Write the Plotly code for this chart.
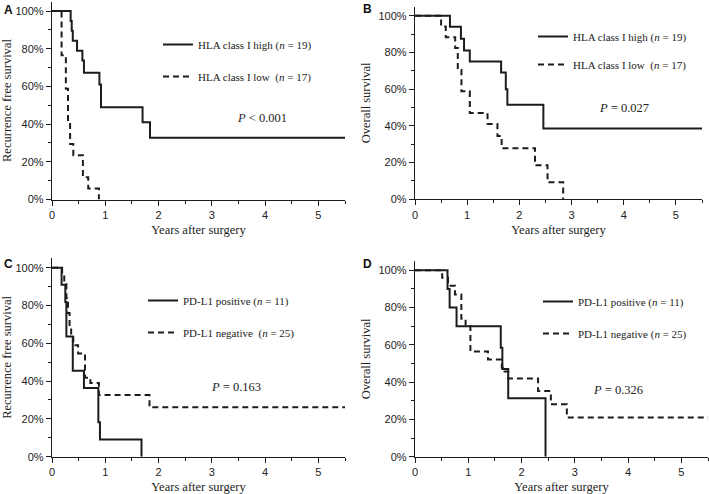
import plotly.graph_objects as go

# ---------------- data ----------------
# Panel A: recurrence free survival by HLA class I
a_high_t = [0, 0.35, 0.37, 0.39, 0.47, 0.57, 0.60, 0.89, 0.92, 1.70, 1.84, 5.5]
a_high_s = [1.0, 0.947, 0.895, 0.842, 0.789, 0.737, 0.672, 0.61, 0.49, 0.41, 0.327, 0.327]
a_low_t = [0, 0.18, 0.26, 0.30, 0.34, 0.40, 0.58, 0.68, 0.88]
a_low_s = [1.0, 0.765, 0.588, 0.412, 0.294, 0.235, 0.118, 0.059, 0.0]

# Panel B: overall survival by HLA class I
b_high_t = [0, 0.67, 0.88, 0.94, 1.05, 1.65, 1.74, 1.77, 2.46, 5.5]
b_high_s = [1.0, 0.94, 0.875, 0.81, 0.75, 0.69, 0.60, 0.515, 0.386, 0.386]
b_low_t = [0, 0.50, 0.59, 0.77, 0.82, 0.89, 1.05, 1.39, 1.58, 1.66, 2.30, 2.54, 2.84]
b_low_s = [1.0, 0.941, 0.882, 0.824, 0.706, 0.588, 0.47, 0.41, 0.345, 0.278, 0.186, 0.093, 0.0]

# Panel C: recurrence free survival by PD-L1
c_pos_t = [0, 0.18, 0.25, 0.27, 0.39, 0.60, 0.87, 0.90, 1.68]
c_pos_s = [1.0, 0.909, 0.818, 0.636, 0.455, 0.364, 0.182, 0.091, 0.0]
c_neg_t = [0, 0.19, 0.23, 0.27, 0.30, 0.33, 0.36, 0.40, 0.49, 0.62, 0.72, 0.88, 1.83, 5.5]
c_neg_s = [1.0, 0.96, 0.92, 0.84, 0.76, 0.68, 0.64, 0.59, 0.546, 0.418, 0.39, 0.326, 0.261, 0.261]

# Panel D: overall survival by PD-L1
d_pos_t = [0, 0.61, 0.65, 0.78, 1.61, 1.64, 1.75, 2.45]
d_pos_s = [1.0, 0.90, 0.80, 0.70, 0.585, 0.47, 0.313, 0.0]
d_neg_t = [0, 0.51, 0.62, 0.75, 0.87, 0.95, 1.04, 1.37, 1.63, 1.68, 1.75, 2.31, 2.55, 2.85, 5.5]
d_neg_s = [1.0, 0.96, 0.917, 0.87, 0.74, 0.70, 0.565, 0.522, 0.478, 0.457, 0.42, 0.352, 0.281, 0.21, 0.21]

names_hla = ["HLA class I high (<i>n</i> = 19)", "HLA class I low\u00a0\u00a0(<i>n</i> = 17)"]
names_pdl1_c = ["PD-L1 positive (<i>n</i> = 11)", "PD-L1 negative\u00a0\u00a0(<i>n</i> = 25)"]
names_pdl1_d = ["PD-L1 positive (<i>n</i> = 11)", "PD-L1 negative (<i>n</i> = 25)"]
p_texts = ["<i>P</i> &lt; 0.001", "<i>P</i> = 0.027", "<i>P</i> = 0.163", "<i>P</i> = 0.326"]
p_pos = [(3.94, 0.432), (4.0, 0.497), (3.45, 0.369), (3.81, 0.358)]
y_titles = ["Recurrence free survival", "Overall survival", "Recurrence free survival", "Overall survival"]
x_title = "Years after surgery"
panel_letters = ["A", "B", "C", "D"]
x_ticks = [0, 1, 2, 3, 4, 5]
y_ticks = [0, 0.2, 0.4, 0.6, 0.8, 1.0]

# ---------------- figure ----------------
W, H = 709, 494
LINE = "#1c1c1c"
SERIF = "Liberation Serif, Times New Roman, serif"
SANS = "Liberation Sans, Arial, sans-serif"

fig = go.Figure()

panels = [
    (a_high_t, a_high_s, a_low_t, a_low_s, names_hla, "x", "y", "legend"),
    (b_high_t, b_high_s, b_low_t, b_low_s, names_hla, "x2", "y2", "legend2"),
    (c_pos_t, c_pos_s, c_neg_t, c_neg_s, names_pdl1_c, "x3", "y3", "legend3"),
    (d_pos_t, d_pos_s, d_neg_t, d_neg_s, names_pdl1_d, "x4", "y4", "legend4"),
]

for i, (t1, s1, t2, s2, nm, xa, ya, lg) in enumerate(panels):
    fig.add_trace(go.Scatter(x=t1, y=s1, mode="lines", line=dict(color=LINE, width=2, shape="hv"),
                             name=nm[0], xaxis=xa, yaxis=ya, legend=lg, legendgroup=f"g{i}a"))
    fig.add_trace(go.Scatter(x=t2, y=s2, mode="lines", line=dict(color=LINE, width=2, shape="hv", dash="6px,4px"),
                             name=nm[1], xaxis=xa, yaxis=ya, legend=lg, legendgroup=f"g{i}b"))

# pixel-based domains
def xd(l, r):
    return [l / W, r / W]

def yd(bottom_px, top_px):
    return [1 - bottom_px / H, 1 - top_px / H]

x_domains = [xd(52, 345), xd(415, 702), xd(52, 345), xd(415, 708)]
y_domains = [yd(199.5, 1.6), yd(199.3, 6.5), yd(456.7, 258.2), yd(456.7, 261.0)]

axis_common = dict(showline=True, linecolor=LINE, linewidth=1.3, showgrid=False, zeroline=False,
                   ticks="outside", tickcolor=LINE, tickwidth=1.2, ticklen=5, automargin=False)

layout = {}
for i in range(4):
    sfx = "" if i == 0 else str(i + 1)
    layout["xaxis" + sfx] = dict(
        axis_common, domain=x_domains[i], range=[0, 5.5], tickvals=x_ticks,
        anchor="y" + sfx,
        minor=dict(dtick=0.5, tick0=0, ticks="outside", ticklen=3, tickcolor=LINE, tickwidth=1.2),
        tickfont=dict(family=SANS, size=11, color="#222"),
        title=dict(text=x_title, font=dict(family=SERIF, size=12.5, color="#222"), standoff=5),
    )
    layout["yaxis" + sfx] = dict(
        axis_common, domain=y_domains[i], range=[0, 1.05], tickvals=y_ticks, tickformat=".0%",
        anchor="x" + sfx,
        minor=dict(dtick=0.1, tick0=0, ticks="outside", ticklen=3, tickcolor=LINE, tickwidth=1.2),
        tickfont=dict(family=SANS, size=11, color="#222"),
        title=dict(text=y_titles[i], font=dict(family=SERIF, size=12.5, color="#222"), standoff=5),
    )

legend_pos = [(158, 30), (533, 22), (143, 286), (538, 287)]
legend_gaps = [13, 9, 13, 13]
for i in range(4):
    key = "legend" if i == 0 else f"legend{i + 1}"
    lx, ly = legend_pos[i]
    layout[key] = dict(x=lx / W, y=1 - ly / H, xanchor="left", yanchor="top",
                       bgcolor="rgba(0,0,0,0)", borderwidth=0,
                       font=dict(family=SERIF, size=11, color="#222"),
                       tracegroupgap=legend_gaps[i], itemclick=False, itemdoubleclick=False)

annotations = []
for i in range(4):
    sfx = "" if i == 0 else str(i + 1)
    px_, py_ = p_pos[i]
    annotations.append(dict(text=p_texts[i], x=px_, y=py_, xref="x" + sfx, yref="y" + sfx,
                            showarrow=False, font=dict(family=SERIF, size=12.5, color="#222"),
                            xanchor="center", yanchor="middle"))

letter_pos = [(2, 10), (361, 9), (2, 264), (361, 264)]
for i in range(4):
    lx, ly = letter_pos[i]
    annotations.append(dict(text=f"<b>{panel_letters[i]}</b>", x=lx / W, y=1 - ly / H,
                            xref="paper", yref="paper", showarrow=False,
                            xanchor="left", yanchor="middle",
                            font=dict(family=SANS, size=12, color="#111")))

fig.update_layout(
    width=W, height=H, margin=dict(l=0, r=0, t=0, b=0, autoexpand=False),
    paper_bgcolor="white", plot_bgcolor="white",
    showlegend=True, annotations=annotations, **layout,
)

fig.write_html("out.html", config={"displayModeBar": False},
               post_script="document.body.style.margin='0';document.body.style.padding='0';")
